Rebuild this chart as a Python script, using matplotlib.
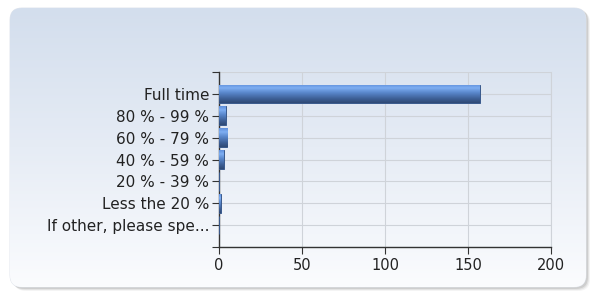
import matplotlib
matplotlib.use("Agg")
import matplotlib.pyplot as plt
import numpy as np
from matplotlib.patches import FancyBboxPatch
from matplotlib.colors import LinearSegmentedColormap

categories = ["Full time", "80 % - 99 %", "60 % - 79 %", "40 % - 59 %",
              "20 % - 39 %", "Less the 20 %", "If other, please spe..."]
values = [157, 4, 5, 3, 0, 1, 0]
xticks = [0, 50, 100, 150, 200]

W, H = 594, 291
fig = plt.figure(figsize=(W/100, H/100), dpi=100)
fig.patch.set_facecolor("white")

# background panel with gradient
bg = fig.add_axes([0, 0, 1, 1], zorder=-10)
bg.set_xlim(0, W); bg.set_ylim(H, 0); bg.axis("off")
for i, a in enumerate([0.10, 0.18, 0.28]):
    sh = FancyBboxPatch((10 + 4 - i, 8 + 3 - i), 576, 280, boxstyle="round,pad=0,rounding_size=12",
                        fc="#9a9a9a", ec="none", alpha=a, transform=bg.transData)
    bg.add_patch(sh)
panel = FancyBboxPatch((10, 8), 576, 279, boxstyle="round,pad=0,rounding_size=12",
                       fc="white", ec="#dde2ea", lw=0.6, transform=bg.transData)
bg.add_patch(panel)
grad_cmap = LinearSegmentedColormap.from_list("bgc", ["#d3deed", "#e6ecf5", "#fbfcfe"])
g = np.linspace(0, 1, 256).reshape(-1, 1)
im = bg.imshow(g, cmap=grad_cmap, extent=(10, 586, 287, 8), aspect="auto", zorder=2)
im.set_clip_path(panel)

# main axes
left, right, top, bottom = 219, 551, 72, 247
ax = fig.add_axes([left/W, 1 - bottom/H, (right-left)/W, (bottom-top)/H])
ax.patch.set_alpha(0)
y = np.arange(len(categories))
bars = ax.barh(y, values, height=0.85, color="#4f7fc4", edgecolor="#3a5a8c", lw=0.7, zorder=3)
ax.set_yticks(y)
ax.set_yticklabels(categories)
ax.set_yticks([-1, len(categories)], minor=True)
ax.set_xticks(xticks)
ax.set_xlim(0, 200)
ax.set_ylim(len(categories), -1)

# gradient fill for bars (light at top, dark at bottom)
bar_cmap = LinearSegmentedColormap.from_list(
    "bar", [(0.0, "#5f8fdc"), (0.2, "#7eaef2"), (0.45, "#5a88cc"), (0.75, "#3f6299"), (1.0, "#2f4a75")])
gb = np.linspace(0, 1, 64).reshape(-1, 1)
for b in bars:
    if b.get_width() <= 0:
        continue
    x0, y0 = b.get_x(), b.get_y()
    w, h = b.get_width(), b.get_height()
    # y0 is the visually upper edge (axis inverted); row 0 of image at y0
    bim = ax.imshow(gb, cmap=bar_cmap, extent=(x0, x0 + w, y0 + h, y0),
                    aspect="auto", zorder=3.5, origin="upper")
    bim.set_clip_path(b)
ax.set_xlim(0, 200)
ax.set_ylim(len(categories), -1)

ax.grid(True, which="major", color="#cfd3d9", lw=0.8, zorder=0)
ax.grid(True, which="minor", axis="y", color="#cfd3d9", lw=0.8, zorder=0)
ax.spines["top"].set_visible(False)
ax.spines["right"].set_color("#cfd3d9")
for s in ["left", "bottom"]:
    ax.spines[s].set_color("#333333")
    ax.spines[s].set_linewidth(1.0)
ax.tick_params(axis="both", which="both", colors="#333333", labelcolor="#222222",
               length=5, width=0.8, pad=2)
ax.tick_params(axis="y", labelsize=11)
ax.tick_params(axis="x", labelsize=10.5, pad=3)
ax.set_axisbelow(True)

fig.savefig("out.png", dpi=100)
